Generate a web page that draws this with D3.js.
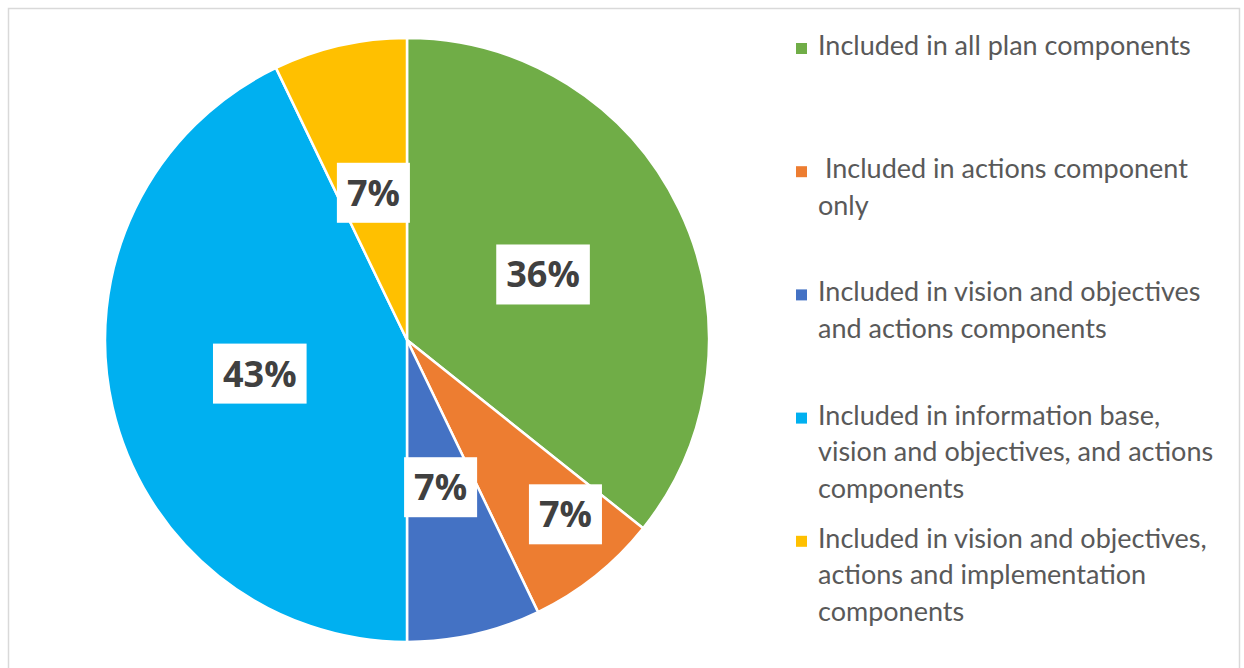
<!DOCTYPE html>
<html>
<head>
<meta charset="utf-8">
<script src="https://cdn.jsdelivr.net/npm/d3@7"></script>
<style>
  html, body { margin: 0; padding: 0; background: #fff; }
  svg { display: block; }
</style>
</head>
<body>
<svg id="chart" width="1244" height="668"></svg>
<script>
// Plan components in which the topic was included (number of plans)
const categories = [
  "Included in all plan components",
  " Included in actions component\nonly",
  "Included in vision and objectives\nand actions components",
  "Included in information base,\nvision and objectives, and actions\ncomponents",
  "Included in vision and objectives,\nactions and implementation\ncomponents"
];
const counts = [5, 1, 1, 6, 1];
const colors = ["#70AD47", "#ED7D31", "#4472C4", "#00B0F0", "#FFC000"];

const W = 1244, H = 668;
const svg = d3.select("#chart");

// light frame around the chart area
svg.append("rect")
  .attr("x", 8.5).attr("y", 8.5)
  .attr("width", 1231).attr("height", H + 10)
  .attr("fill", "none")
  .attr("stroke", "#d9d9d9")
  .attr("stroke-width", 1.5);

const cx = 407, cy = 340, R = 302;
const total = d3.sum(counts);
const data = counts.map((v, i) => ({ name: categories[i], value: v, color: colors[i], i }));

const pie = d3.pie().value(d => d.value).sort(null);
const arcs = pie(data);
const arc = d3.arc().innerRadius(0).outerRadius(R);

const g = svg.append("g").attr("transform", `translate(${cx},${cy})`);

g.selectAll("path.slice")
  .data(arcs)
  .join("path")
  .attr("class", "slice")
  .attr("d", arc)
  .attr("fill", d => d.data.color)
  .attr("stroke", "#fff")
  .attr("stroke-width", 2.5)
  .attr("stroke-linejoin", "round");

// data labels: centred at half radius, the narrow orange slice pushed outward
const pct = d3.format(".0%");
const labelPlacement = i => (i === 1 ? { r: 0.78, da: -3.7 } : { r: 0.5, da: 0 });

const labels = g.selectAll("g.lbl")
  .data(arcs)
  .join("g")
  .attr("class", "lbl")
  .attr("transform", d => {
    const p = labelPlacement(d.index);
    const a = (d.startAngle + d.endAngle) / 2 + p.da * Math.PI / 180;
    const rr = R * p.r;
    return `translate(${rr * Math.sin(a)},${-rr * Math.cos(a)})`;
  });

labels.each(function (d) {
  const gl = d3.select(this);
  const rect = gl.append("rect").attr("fill", "#fff");
  const t = gl.append("text")
    .attr("text-anchor", "middle")
    .attr("dy", "0.36em")
    .attr("font-family", "'Open Sans', Lato, sans-serif")
    .attr("font-weight", 700)
    .attr("font-size", 36)
    .attr("fill", "#404040")
    .text(pct(d.data.value / total));
  const w = t.node().getComputedTextLength();
  rect.attr("x", -w / 2 - 10).attr("y", -30)
    .attr("width", w + 20).attr("height", 60);
});

// legend
const legend = svg.append("g").attr("transform", "translate(796,0)");
const itemStep = 123.2, lineStep = 36.5, firstBaseline = 55;

const items = legend.selectAll("g.item")
  .data(data)
  .join("g")
  .attr("class", "item")
  .attr("transform", (d, i) => `translate(0,${firstBaseline + i * itemStep})`);

items.append("rect")
  .attr("x", 0).attr("y", -12)
  .attr("width", 11).attr("height", 11)
  .attr("fill", d => d.color);

items.append("text")
  .attr("font-family", "Lato, 'Open Sans', sans-serif")
  .attr("font-size", 27)
  .attr("fill", "#595959")
  .attr("xml:space", "preserve")
  .style("white-space", "pre")
  .each(function (d) {
    const t = d3.select(this);
    d.name.split("\n").forEach((line, k) => {
      t.append("tspan").attr("x", 22).attr("y", k * lineStep).text(line);
    });
  });
</script>
</body>
</html>
